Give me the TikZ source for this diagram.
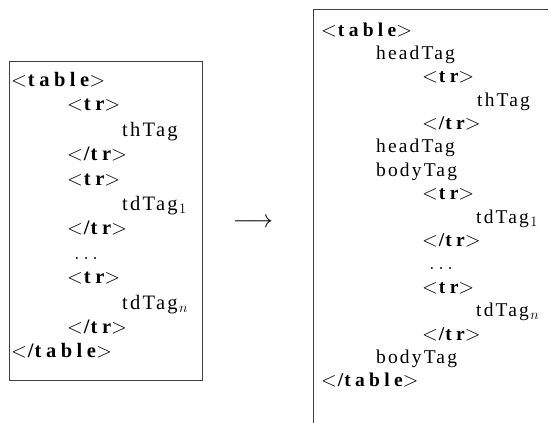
\documentclass[tikz,border=0pt]{standalone}
\usepackage{fontspec}
\setmainfont{Liberation Serif}
\newfontfamily\spaced{Liberation Serif}[LetterSpace=11,BoldFeatures={LetterSpace=22}]
\newcommand{\otag}[1]{$<$\kern1pt{\bfseries #1}$>$}
\newcommand{\ctag}[1]{$<$\kern1pt{\bfseries /\kern1pt#1}$>$}
\newcommand{\subsc}[1]{\kern1.5pt$_{#1}$}
\begin{document}
\begin{tikzpicture}[x=1pt,y=-1pt,
  linebox/.style={draw=black!75,line width=0.8pt},
  ltext/.style={anchor=base west,inner sep=0pt,font=\spaced\fontsize{20.5}{24}\selectfont},
  rtext/.style={anchor=base west,inner sep=0pt,font=\spaced\fontsize{19.5}{23}\selectfont}]
\useasboundingbox (0,0) rectangle (549,423);
% left box
\draw[linebox] (9,61) rectangle (202,380);
\node[ltext] (l1) at (11,86) {\otag{table}};
\node[ltext] (l2) at (67,110.7) {\otag{tr}};
\node[ltext] (l3) at (122,136) {thTag};
\node[ltext] (l4) at (67,160.5) {\ctag{tr}};
\node[ltext] (l5) at (67,185) {\otag{tr}};
\node[ltext] (l6) at (122,210.5) {tdTag\subsc{1}};
\node[ltext] (l7) at (67,234.5) {\ctag{tr}};
\node[ltext] (l8) at (74,259) {$\ldots$};
\node[ltext] (l9) at (67,283.5) {\otag{tr}};
\node[ltext] (l10) at (122,309) {tdTag\subsc{n}};
\node[ltext] (l11) at (67,333) {\ctag{tr}};
\node[ltext] (l12) at (11,357.6) {\ctag{table}};
% arrow
\node[inner sep=0pt,font=\fontsize{26}{26}\selectfont] (arr) at (253,223) {$\longrightarrow$};
% right box (cropped by the picture edge)
\coordinate (rtop) at (548,9);
\coordinate (rcorner) at (313,9);
\coordinate (rbot) at (313,423);
\draw[linebox] (rtop) -- (rcorner) -- (rbot);
\node[rtext] (r0) at (321,36) {\otag{table}};
\node[rtext] (r1) at (376,59.4) {headTag};
\node[rtext] (r2) at (422,82.8) {\otag{tr}};
\node[rtext] (r3) at (477,106.1) {thTag};
\node[rtext] (r4) at (422,129.5) {\ctag{tr}};
\node[rtext] (r5) at (376,152.9) {headTag};
\node[rtext] (r6) at (376,176.3) {bodyTag};
\node[rtext] (r7) at (422,199.7) {\otag{tr}};
\node[rtext] (r8) at (476,223) {tdTag\subsc{1}};
\node[rtext] (r9) at (422,246.4) {\ctag{tr}};
\node[rtext] (r10) at (429,269.8) {$\ldots$};
\node[rtext] (r11) at (422,293.2) {\otag{tr}};
\node[rtext] (r12) at (476,316.6) {tdTag\subsc{n}};
\node[rtext] (r13) at (422,340) {\ctag{tr}};
\node[rtext] (r14) at (376,363.3) {bodyTag};
\node[rtext] (r15) at (321,386.7) {\ctag{table}};
\end{tikzpicture}
\end{document}
